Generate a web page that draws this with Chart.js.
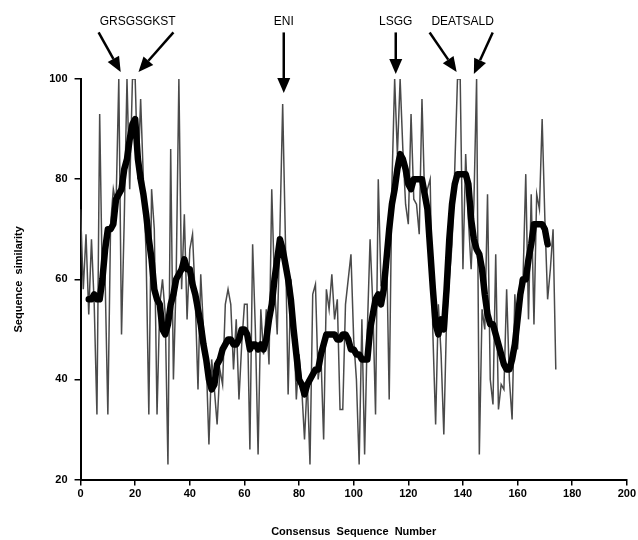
<!DOCTYPE html>
<html>
<head>
<meta charset="utf-8">
<script src="https://cdn.jsdelivr.net/npm/chart.js@4"></script>
<style>
  html, body { margin: 0; padding: 0; background: #fff; }
  #wrap { width: 638px; height: 540px; }
</style>
</head>
<body>
<div id="wrap"><canvas id="similarityChart" width="638" height="540"></canvas></div>
<script>
// raw similarity, one value per consensus position 0..174
const rawSimilarity = [
  74, 58, 69, 53, 68, 55, 33, 93, 58, 60,
  33, 71, 78, 75, 100, 49, 72, 100, 78, 100,
  100, 80, 96, 80, 65, 33, 78, 70, 33, 55,
  60, 53, 23, 86, 40, 60, 100, 58, 73, 52,
  66, 69, 56, 38, 61, 50, 44, 27, 44, 38,
  31, 42, 39, 55, 58, 55, 42, 52, 36, 47,
  55, 55, 26, 67, 50, 25, 54, 45, 54, 43,
  78, 59, 49, 70, 95, 68, 37, 60, 52, 36,
  45, 38, 28, 40, 23, 57, 59, 40, 45, 28,
  58, 54, 61, 52, 56, 34, 34, 55, 60, 65,
  48, 40, 23, 52, 25, 50, 68, 55, 33, 80,
  59, 60, 68, 36, 79, 100, 85, 100, 86, 75,
  71, 93, 76, 75, 69, 96, 76, 78, 80, 49,
  31, 55, 45, 29, 52, 60, 67, 82, 100, 100,
  62, 85, 72, 62, 75, 100, 25, 54, 50, 77,
  40, 35, 65, 34, 39, 38, 58, 40, 32, 57,
  46, 60, 60, 81, 52, 77, 51, 77, 74, 92,
  72, 56, 62, 70, 42
];

// smoothed curve, positions 3..171
const smoothStart = 3;
const smoothSimilarity = [
  56, 56, 57, 56, 56, 60, 66, 70, 70, 71,
  76, 77, 78, 82, 84, 88, 91, 92, 84, 80,
  77, 73, 68, 64, 58, 56, 55, 50, 49, 51,
  55, 57, 60, 61, 62, 64, 62, 62, 59, 57,
  54, 51, 47, 44, 40, 38, 39, 43, 44, 46,
  47, 48, 48, 47, 47, 48, 50, 50, 49, 46,
  47, 47, 46, 47, 46, 48, 52, 55, 60, 64,
  68, 66, 63, 60, 56, 50, 45, 40, 39, 37,
  39, 40, 41, 42, 42, 45, 47, 49, 49, 49,
  49, 48, 48, 49, 49, 48, 46, 46, 45, 45,
  44, 44, 44, 50, 53, 56, 57, 55, 58, 64,
  70, 75, 78, 82, 85, 84, 82, 79, 78, 80,
  80, 80, 80, 77, 74, 66, 58, 51, 49, 52,
  50, 58, 68, 75, 79, 81, 81, 81, 81, 79,
  72, 68, 66, 65, 62, 57, 53, 51, 51, 49,
  47, 45, 43, 42, 42, 44, 47, 52, 57, 60,
  60, 64, 67, 71, 71, 71, 71, 70, 67
];

const xTicks = [0, 20, 40, 60, 80, 100, 120, 140, 160, 180, 200];
const yTicks = [20, 40, 60, 80, 100];

// motif labels above the plot, arrows point down at the peaks
const motifLabels = ["GRSGSGKST", "ENI", "LSGG", "DEATSALD"];
const motifLabelX = [20.9, 74.4, 115.4, 139.9];
const arrowTailX = [6.6, 34, 74.4, 115.4, 127.8, 150.9];
const arrowTipX = [14.7, 21.2, 74.4, 115.4, 137.7, 144];
const arrowTipY = [101.4, 101.4, 97.2, 101, 101.4, 101];

const rawPoints = rawSimilarity.map((v, i) => ({ x: i, y: v }));
const smoothPoints = smoothSimilarity.map((v, i) => ({ x: smoothStart + i, y: v }));

const motifPlugin = {
    id: 'motifs',
    afterDraw(chart) {
        const { ctx, scales: { x, y } } = chart;
        ctx.save();
        ctx.fillStyle = '#000';
        ctx.strokeStyle = '#000';
        ctx.font = '12px "Liberation Sans", Arial, sans-serif';
        ctx.textAlign = 'center';
        ctx.textBaseline = 'middle';
        motifLabels.forEach((t, i) => {
            ctx.fillText(t, x.getPixelForValue(motifLabelX[i]), y.getPixelForValue(111.4));
        });
        const tailY = y.getPixelForValue(109.3);
        arrowTipX.forEach((tx, i) => {
            const x0 = x.getPixelForValue(arrowTailX[i]), y0 = tailY;
            const x1 = x.getPixelForValue(tx), y1 = y.getPixelForValue(arrowTipY[i]);
            const ang = Math.atan2(y1 - y0, x1 - x0);
            const headLen = 15, headW = 6.5;
            const bx = x1 - headLen * Math.cos(ang), by = y1 - headLen * Math.sin(ang);
            ctx.lineWidth = 2.5;
            ctx.beginPath();
            ctx.moveTo(x0, y0);
            ctx.lineTo(bx, by);
            ctx.stroke();
            ctx.beginPath();
            ctx.moveTo(x1, y1);
            ctx.lineTo(bx + headW * Math.sin(ang), by - headW * Math.cos(ang));
            ctx.lineTo(bx - headW * Math.sin(ang), by + headW * Math.cos(ang));
            ctx.closePath();
            ctx.fill();
        });
        ctx.restore();
    }
};

const tickFont = { family: '"Liberation Sans", Arial, sans-serif', size: 11, weight: 'bold' };

new Chart(document.getElementById('similarityChart'), {
    type: 'line',
    data: {
        datasets: [
            {
                label: 'smoothed',
                data: smoothPoints,
                borderColor: '#000',
                borderWidth: 6.5,
                pointRadius: 0,
                tension: 0,
                borderJoinStyle: 'round',
                borderCapStyle: 'round'
            },
            {
                label: 'raw',
                data: rawPoints,
                borderColor: '#4a4a4a',
                borderWidth: 1.5,
                pointRadius: 0,
                tension: 0
            }
        ]
    },
    options: {
        responsive: false,
        animation: false,
        devicePixelRatio: 1,
        layout: { padding: { top: 79, left: 12, right: 4, bottom: 1 } },
        plugins: { legend: { display: false }, tooltip: { enabled: false } },
        scales: {
            x: {
                type: 'linear',
                min: 0, max: 200,
                afterBuildTicks: s => { s.ticks = xTicks.map(v => ({ value: v })); },
                ticks: { color: '#000', font: tickFont, maxRotation: 0, padding: 2 },
                grid: { drawOnChartArea: false, drawTicks: true, tickLength: 6, color: '#000', lineWidth: 1.5 },
                border: { display: true, color: '#000', width: 2 },
                title: {
                    display: true,
                    text: 'Consensus  Sequence  Number',
                    color: '#000',
                    font: tickFont,
                    padding: { top: 23, bottom: 0 }
                }
            },
            y: {
                type: 'linear',
                min: 20, max: 100,
                afterBuildTicks: s => { s.ticks = yTicks.map(v => ({ value: v })); },
                ticks: { color: '#000', font: tickFont, padding: 7 },
                grid: { drawOnChartArea: false, drawTicks: true, tickLength: 6, color: '#000', lineWidth: 1.5 },
                border: { display: true, color: '#000', width: 2 },
                title: {
                    display: true,
                    text: 'Sequence  similarity',
                    color: '#000',
                    font: tickFont,
                    padding: { top: 0, bottom: 17 }
                }
            }
        }
    },
    plugins: [motifPlugin]
});
</script>
</body>
</html>
